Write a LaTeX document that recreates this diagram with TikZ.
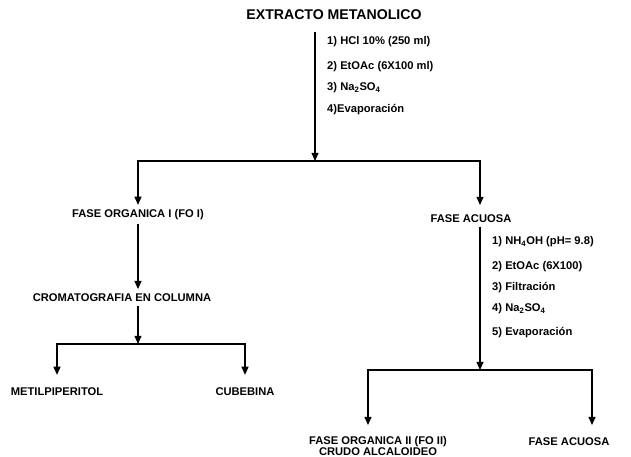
\documentclass[tikz,border=0pt]{standalone}
\usepackage{fontspec}
\setmainfont{Liberation Sans}
\usetikzlibrary{arrows.meta,positioning}

\begin{document}
\begin{tikzpicture}[x=0.85pt,y=-0.85pt,every node/.style={font=\bfseries\fontsize{9.5}{9.5}\selectfont,inner sep=0pt},title/.style={font=\bfseries\fontsize{12}{14}\selectfont},stepnote/.style={anchor=west},arrow/.style={-{Triangle[length=7pt,width=6pt]},line width=1.1pt}]
\useasboundingbox (0,0) rectangle (631,457);
\node[title] (ext) at (334,15) {EXTRACTO METANOLICO};
\coordinate (b1) at (315,161);
\draw[arrow,shorten <=10pt] (ext.south -| b1) -- (b1);
\node[stepnote] (s1) at (327,42) {1) HCl 10\% (250 ml)};
\node[stepnote] (s2) at (327,67) {2) EtOAc (6X100 ml)};
\node[stepnote] (s3) at (327,88) {3) Na\textsubscript{2}SO\textsubscript{4}};
\node[stepnote] (s4) at (327,110) {4)Evaporación};
\node (foi) at (138,215) {FASE ORGANICA I (FO I)};
\node (crom) at (122,298) {CROMATOGRAFIA EN COLUMNA};
\coordinate (b2) at (138,344);
\draw[arrow,shorten >=4pt] (b1) -| (foi);
\draw[arrow,shorten <=3pt,shorten >=4pt] (foi) -- (foi |- crom.north);
\draw[arrow,shorten <=3pt] (b2 |- crom.south) -- (b2);
\node (metil) at (57,392) {METILPIPERITOL};
\node (cub) at (245,392) {CUBEBINA};
\draw[arrow,shorten >=11pt] (b2) -| (metil);
\draw[arrow,shorten >=11pt] (b2) -| (cub);
\node (acu) at (471,219) {FASE ACUOSA};
\coordinate (c2) at (480,205);
\coordinate (b3) at (480,370);
\draw[arrow] (b1) -| (c2);
\draw[arrow,shorten <=3pt] (c2 |- acu.south) -- (b3);
\node[stepnote] (r1) at (492,242) {1) NH\textsubscript{4}OH (pH= 9.8)};
\node[stepnote] (r2) at (492,267) {2) EtOAc (6X100)};
\node[stepnote] (r3) at (492,288) {3) Filtración};
\node[stepnote] (r4) at (492,309) {4) Na\textsubscript{2}SO\textsubscript{4}};
\node[stepnote] (r5) at (492,333) {5) Evaporación};
\node[align=center] (fo2) at (378,446) {FASE ORGANICA II (FO II)\\CRUDO ALCALOIDEO};
\node (acu2) at (569,442) {FASE ACUOSA};
\coordinate (e1) at (368,425);
\coordinate (e2) at (592,425);
\draw[arrow] (b3) -| (e1);
\draw[arrow] (b3) -| (e2);
\end{tikzpicture}
\end{document}
